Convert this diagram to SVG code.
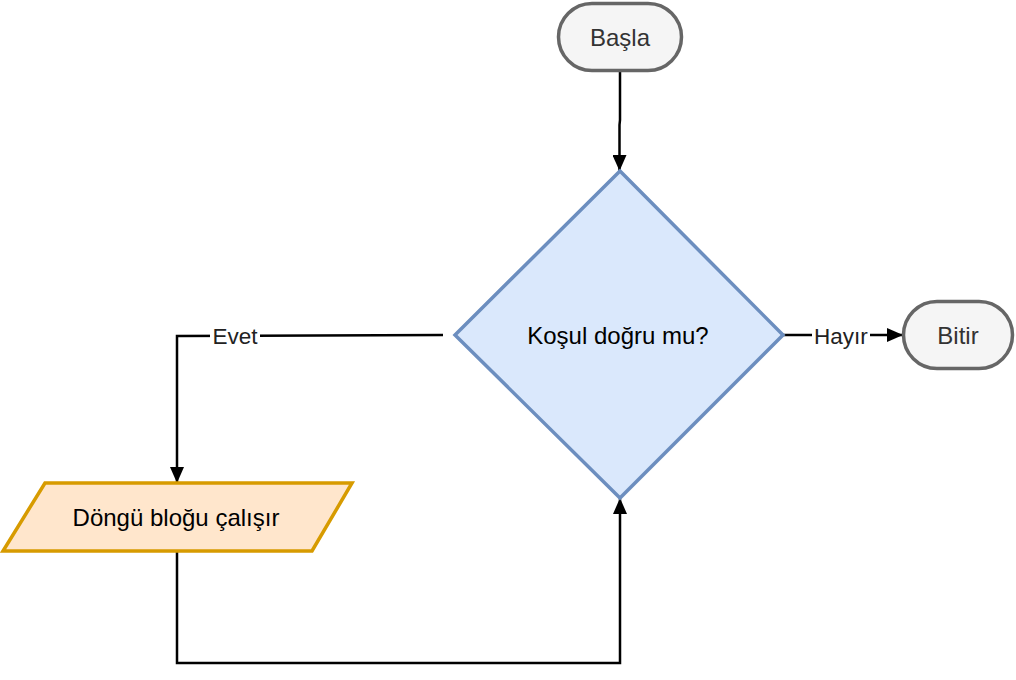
<svg xmlns="http://www.w3.org/2000/svg" width="1016" height="680" viewBox="0 0 1016 680">
<defs>
<marker id="arr" markerWidth="16" markerHeight="14" refX="16" refY="7" orient="auto" markerUnits="userSpaceOnUse">
<path d="M0,0 L16,7 L0,14 Z" fill="#000"/>
</marker>
<style>
text{font-family:"Liberation Sans",Arial,Helvetica,sans-serif;font-size:24px;text-anchor:middle;dominant-baseline:central}
.term{fill:#f5f5f5;stroke:#666666;stroke-width:3.5}
.term-t{fill:#333333}
.edge{fill:none;stroke:#000;stroke-width:2.5}
.lbl{fill:#222;font-size:22.5px}
.lblbg{fill:#fff}
</style>
</defs>
<rect width="1016" height="680" fill="#fff"/>
<g id="connectors">
<path class="edge" d="M620,71 L620,120 L619.5,125 L619.5,171" marker-end="url(#arr)"/>
<path class="edge" d="M443,335 L177,336 L177,483" marker-end="url(#arr)"/>
<rect class="lblbg" x="210" y="323" width="50" height="26"/>
<text class="lbl" x="235" y="336">Evet</text>
<path class="edge" d="M177,551 L177,663 L620,663 L620,498" marker-end="url(#arr)"/>
<path class="edge" d="M783,335 L903,335" marker-end="url(#arr)"/>
<rect class="lblbg" x="812" y="322" width="58" height="26"/>
<text class="lbl" x="841" y="336">Hayır</text>
</g>
<g id="start">
<rect class="term" x="558.5" y="3.5" width="123" height="67" rx="33.5"/>
<text class="term-t" x="620" y="37">Başla</text>
</g>
<g id="decision">
<polygon points="620,171 783,335 620,498 455,335" fill="#dae8fc" stroke="#6c8ebf" stroke-width="3.5"/>
<text x="618" y="335" fill="#000">Koşul doğru mu?</text>
</g>
<g id="loop">
<polygon points="45,483 352,483 312,551 3,551" fill="#ffe6cc" stroke="#d79b00" stroke-width="3.5"/>
<text x="176" y="517" fill="#000">Döngü bloğu çalışır</text>
</g>
<g id="end">
<rect class="term" x="903.5" y="301.5" width="109" height="67" rx="33.5"/>
<text class="term-t" x="958" y="335">Bitir</text>
</g>
</svg>
